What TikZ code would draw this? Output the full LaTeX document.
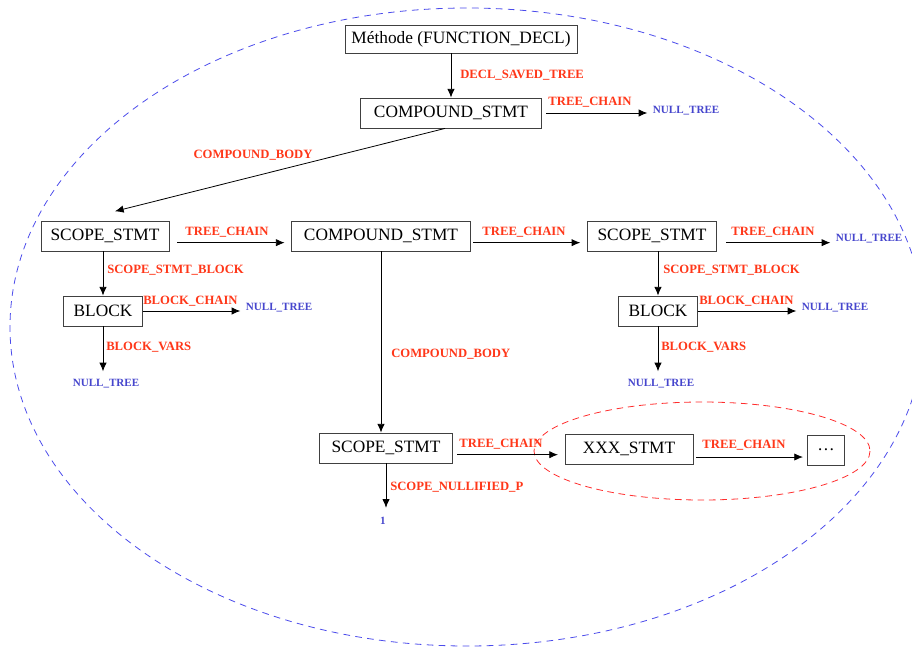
\documentclass[tikz,border=0pt]{standalone}
\usepackage{fontspec}
\setmainfont{Liberation Serif}
\usepackage{tikz}
\usetikzlibrary{arrows.meta}
\definecolor{lblred}{RGB}{255,55,25}
\definecolor{lblblue}{RGB}{70,70,205}
\definecolor{ringblue}{RGB}{75,75,235}
\definecolor{ringred}{RGB}{255,45,45}
\tikzset{
  treebox/.style={draw=black!75, line width=0.6pt, minimum height=22.5pt, inner sep=0pt, font=\fontsize{13}{15}\selectfont},
  edgelbl/.style={text=lblred, inner sep=0pt, font=\bfseries\fontsize{9.5}{11}\selectfont},
  nullval/.style={text=lblblue, inner sep=2pt, font=\bfseries\fontsize{8.3}{10}\selectfont},
  ptr/.style={-{Latex[length=6.5pt,width=5.5pt]}, line width=0.6pt},
}

\begin{document}
\begin{tikzpicture}[x=0.75pt,y=-0.75pt]
        \useasboundingbox (0,0) rectangle (912,646);
        \draw[ringblue, line width=0.6pt, dash pattern=on 5pt off 4pt] (467,327) ellipse [x radius=457, y radius=319];
        \draw[ringred, line width=0.6pt, dash pattern=on 5pt off 3.5pt] (702,451) ellipse [x radius=168, y radius=49];

        \node[treebox, minimum width=174pt, minimum height=21pt] (fdecl) at (461,39) {Méthode (FUNCTION\_DECL)};
        \node[treebox, minimum width=136pt] (cstmtA) at (451,113) {COMPOUND\_STMT};
        \node[nullval, anchor=west] (nullA) at (650,111) {NULL\_TREE};

        \node[treebox, minimum width=96pt] (scopeA) at (105,236) {SCOPE\_STMT};
        \node[treebox, minimum width=134pt] (cstmtB) at (381,236) {COMPOUND\_STMT};
        \node[treebox, minimum width=97pt] (scopeC) at (652,236) {SCOPE\_STMT};
        \node[nullval, anchor=west] (nullB) at (833,239) {NULL\_TREE};

        \node[treebox, minimum width=59pt] (blockA) at (103,311) {BLOCK};
        \node[nullval, anchor=west] (nullC) at (243,308) {NULL\_TREE};
        \node[nullval] (nullD) at (106,384) {NULL\_TREE};
        \node[treebox, minimum width=59pt] (blockC) at (658,311) {BLOCK};
        \node[nullval, anchor=west] (nullE) at (799,308) {NULL\_TREE};
        \node[nullval] (nullF) at (661,384) {NULL\_TREE};

        \node[treebox, minimum width=100pt] (scopeB) at (386,448) {SCOPE\_STMT};
        \node[treebox, minimum width=96pt] (xxx) at (629,449) {XXX\_STMT};
        \node[treebox, minimum width=28pt] (dots) at (826,450) {\dots};
        \node[nullval] (one) at (383,521) {1};

        \draw[ptr] (cstmtA.north |- fdecl.south) -- (cstmtA.north);
        \draw[ptr, shorten <=3pt, shorten >=2pt] (cstmtA.east) -- (cstmtA.east -| nullA.west);
        \draw[ptr] ([xshift=-4.5pt]cstmtA.south) -- ([xshift=7.5pt,yshift=7pt]scopeA.north);
        \draw[ptr, shorten <=6pt, shorten >=5pt] ([yshift=-5pt]scopeA.east) -- ([yshift=-5pt]cstmtB.west);
        \draw[ptr, shorten <=2pt, shorten >=5pt] ([yshift=-5pt]cstmtB.east) -- ([yshift=-5pt]scopeC.west);
        \draw[ptr, shorten <=7pt, shorten >=2pt] ([yshift=-5pt]scopeC.east) -- ([yshift=-5pt]scopeC.east -| nullB.west);

        \draw[ptr] (blockA.north |- scopeA.south) -- (blockA.north);
        \draw[ptr, shorten >=2pt] (blockA.east) -- (blockA.east -| nullC.west);
        \draw[ptr, shorten >=4pt] (blockA.south) -- (blockA.south |- nullD.north);
        \draw[ptr] (blockC.north |- scopeC.south) -- (blockC.north);
        \draw[ptr, shorten >=2pt] (blockC.east) -- (blockC.east -| nullE.west);
        \draw[ptr, shorten >=4pt] (blockC.south) -- (blockC.south |- nullF.north);

        \draw[ptr] (cstmtB.south) -- (cstmtB.south |- scopeB.north);
        \draw[ptr, shorten <=3pt, shorten >=5pt] ([yshift=-5pt]scopeB.east) -- ([yshift=-5pt]scopeB.east -| xxx.west);
        \draw[ptr, shorten <=2pt, shorten >=3pt] ([yshift=-6pt]xxx.east) -- ([yshift=-6pt]xxx.east -| dots.west);
        \draw[ptr, shorten >=5pt] (scopeB.south) -- (scopeB.south |- one.north);

        \node[edgelbl, anchor=west] (lsaved) at (460,75) {DECL\_SAVED\_TREE};
        \node[edgelbl] (lchainA) at (590,102) {TREE\_CHAIN};
        \node[edgelbl] (lbodyA) at (253,155) {COMPOUND\_BODY};
        \node[edgelbl] (lchainB) at (227,232) {TREE\_CHAIN};
        \node[edgelbl] (lchainC) at (524,232) {TREE\_CHAIN};
        \node[edgelbl] (lchainD) at (773,232) {TREE\_CHAIN};
        \node[edgelbl, anchor=west] (lsblockA) at (107,270) {SCOPE\_STMT\_BLOCK};
        \node[edgelbl, anchor=west] (lbchainA) at (143,301) {BLOCK\_CHAIN};
        \node[edgelbl, anchor=west] (lvarsA) at (106,347) {BLOCK\_VARS};
        \node[edgelbl, anchor=west] (lsblockC) at (663,270) {SCOPE\_STMT\_BLOCK};
        \node[edgelbl, anchor=west] (lbchainC) at (699,301) {BLOCK\_CHAIN};
        \node[edgelbl, anchor=west] (lvarsC) at (661,347) {BLOCK\_VARS};
        \node[edgelbl, anchor=west] (lbodyB) at (391,354) {COMPOUND\_BODY};
        \node[edgelbl] (lchainE) at (501,444) {TREE\_CHAIN};
        \node[edgelbl] (lchainF) at (744,445) {TREE\_CHAIN};
        \node[edgelbl, anchor=west] (lnullif) at (390,487) {SCOPE\_NULLIFIED\_P};
      \end{tikzpicture}
\end{document}
